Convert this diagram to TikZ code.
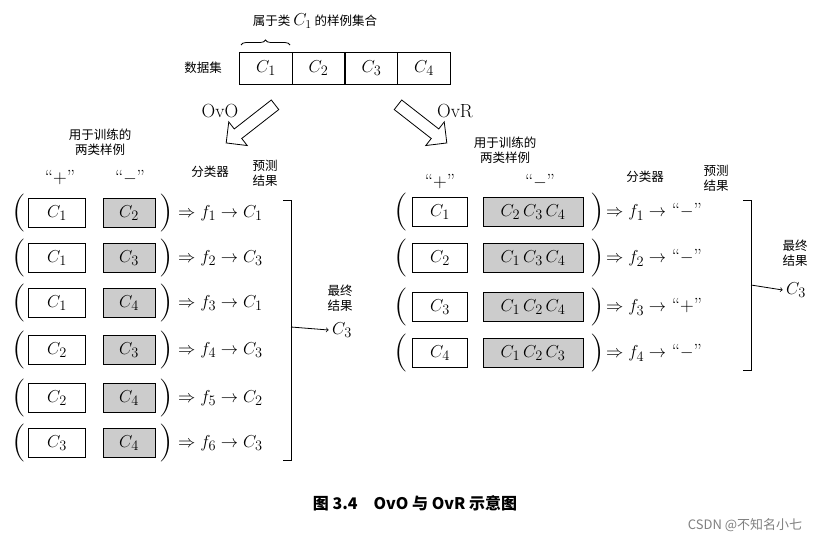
\documentclass[tikz,border=0pt]{standalone}
\usepackage{fontspec}
\newfontfamily\cjk{Noto Sans CJK SC}
\usetikzlibrary{shapes.arrows,decorations.pathreplacing}
\begin{document}
\begin{tikzpicture}[x=1pt,y=-1pt,
  big/.style={font=\fontsize{19}{21}\selectfont},
  wb/.style={draw,thick,minimum height=29pt,inner sep=0pt,big},
  gb/.style={wb,fill=gray!40},
  par/.style={font=\fontsize{38}{38}\selectfont,inner sep=0pt},
  cj/.style={font=\cjk\fontsize{12.5}{15}\selectfont,align=center,inner sep=0pt},
  cl/.style={big,inner sep=0pt,anchor=west},
  fat/.style={single arrow,draw,thick,minimum height=62pt,minimum width=30pt,single arrow head extend=5pt,inner sep=3pt}]
\useasboundingbox (0,0) rectangle (833,544);
% dataset
\node[cj] (ds) at (203,68) {数据集};
\foreach \i/\x in {1/266,2/318.5,3/371.5,4/424}
  \node[wb,minimum width=52.5pt,minimum height=32pt] (d\i) at (\x,68) {$C_\i$};
\node[cj] (top) at (315,21) {属于类 {\fontsize{17}{17}\selectfont$C_1$} 的样例集合};
\draw[thick,decorate,decoration={brace,amplitude=5pt}] (241,45) -- (290,45);
\node[fat,rotate=-142] (ao) at (253,122) {};
\node[fat,rotate=-38] (ar) at (420,122) {};
\node[big] (lo) at (220,111) {OvO};
\node[big] (lr) at (455,111) {OvR};
% left headers
\node[cj] (h1) at (100,142) {用于训练的\\两类样例};
\node[big] (pl) at (60,178) {“+”};
\node[big] (ml) at (130,178) {“$-$”};
\node[cj] (cf) at (210,172) {分类器};
\node[cj] (pr) at (265,173) {预测\\结果};
\foreach \k/\y/\a/\b/\p in {1/213/1/2/1,2/258/1/3/3,3/303/1/4/1,4/350/2/3/3,5/398/2/4/2,6/443/3/4/3}{
  \node[par] (lp\k) at (19,\y) {(};
  \node[wb,minimum width=57pt] (lw\k) at (57,\y) {$C_\a$};
  \node[gb,minimum width=52pt] (lg\k) at (129,\y) {$C_\b$};
  \node[par] (rp\k) at (166,\y) {)};
  \node[cl] (lf\k) at (178,\y) {$\Rightarrow f_\k \rightarrow C_\p$};
}
\draw[thick] (283,200) -- (291,200) -- (291,460) -- (283,460);
\node[cj] (fl) at (340,298) {最终\\结果};
\node[big] (fc) at (342,330) {$C_3$};
\draw[thick,->] (291,327) -- (fc.west);
% right headers
\node[cj] (h2) at (505,150) {用于训练的\\两类样例};
\node[big] (pr2) at (440,182) {“+”};
\node[big] (mr2) at (540,182) {“$-$”};
\node[cj] (cf2) at (645,177) {分类器};
\node[cj] (pr3) at (716,178) {预测\\结果};
\foreach \k/\y/\a/\g/\s in {1/212/1/{C_2\,C_3\,C_4}/$-$,2/258/2/{C_1\,C_3\,C_4}/$-$,3/307/3/{C_1\,C_2\,C_4}/+,4/353/4/{C_1\,C_2\,C_3}/$-$}{
  \node[par] (rlp\k) at (401,\y) {(};
  \node[wb,minimum width=55pt] (rw\k) at (440,\y) {$C_\a$};
  \node[gb,minimum width=100pt] (rg\k) at (533,\y) {$\g$};
  \node[par] (rrp\k) at (597,\y) {)};
  \node[cl] (rf\k) at (606,\y) {$\Rightarrow f_\k \rightarrow$ “\s”};
}
\draw[thick] (743,200) -- (751,200) -- (751,370) -- (743,370);
\node[cj] (fr) at (795,253) {最终\\结果};
\node[big] (frc) at (796,290) {$C_3$};
\draw[thick,->] (751,285) -- (frc.west);
% caption
\node[font=\cjk\bfseries\fontsize{16}{18}\selectfont] (cap) at (415,503) {图 3.4\quad OvO 与 OvR 示意图};
\node[font=\cjk\fontsize{13}{15}\selectfont,text=gray] (wm) at (745,525) {CSDN @不知名小七};
\end{tikzpicture}
\end{document}
